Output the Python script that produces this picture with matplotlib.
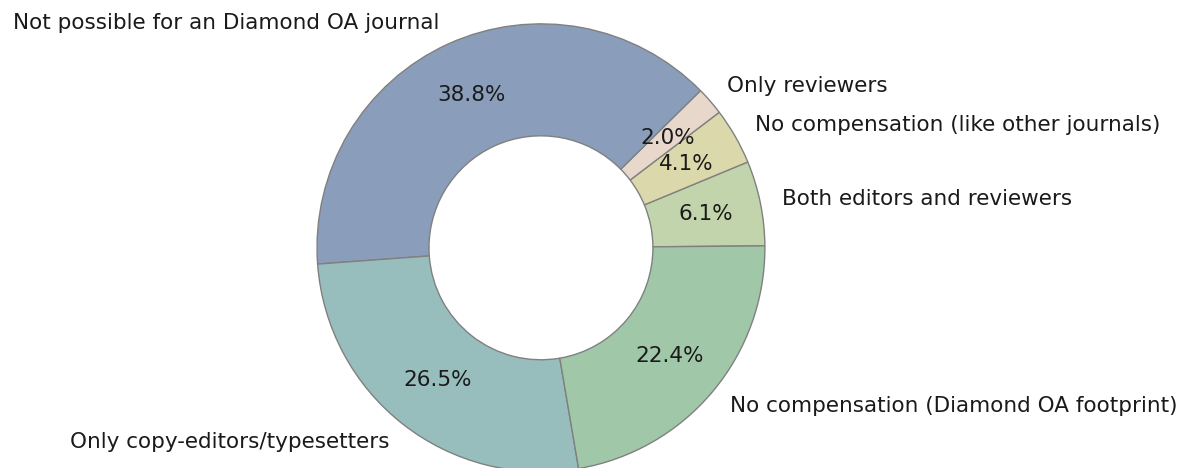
import matplotlib.pyplot as plt

plt.rcParams["font.family"] = "DejaVu Sans"

# Survey answers (counts out of 49 journals)
labels = [
    "Both editors and reviewers",
    "No compensation (like other journals)",
    "Only reviewers",
    "Not possible for an Diamond OA journal",
    "Only copy-editors/typesetters",
    "No compensation (Diamond OA footprint)",
]
counts = [3, 2, 1, 19, 13, 11]
colors = ["#c2d4ab", "#dbd9ab", "#e8d8cc", "#8a9dba", "#97bebd", "#a0c8a8"]

fig = plt.figure(figsize=(11.88, 4.68), dpi=100)
ax = fig.add_axes([0.2668, -0.008, 0.3771, 0.957])

ax.pie(
    counts,
    labels=labels,
    colors=colors,
    autopct="%1.1f%%",
    startangle=0.5,
    pctdistance=0.75,
    labeldistance=1.1,
    wedgeprops=dict(width=0.5, edgecolor="grey", linewidth=1),
    textprops=dict(fontsize=15.5, color="#1a1a1a"),
)
ax.set_xlim(-1, 1)
ax.set_ylim(-1, 1)
ax.set_aspect("equal")
ax.axis("off")

fig.savefig("out.png", dpi=100)
